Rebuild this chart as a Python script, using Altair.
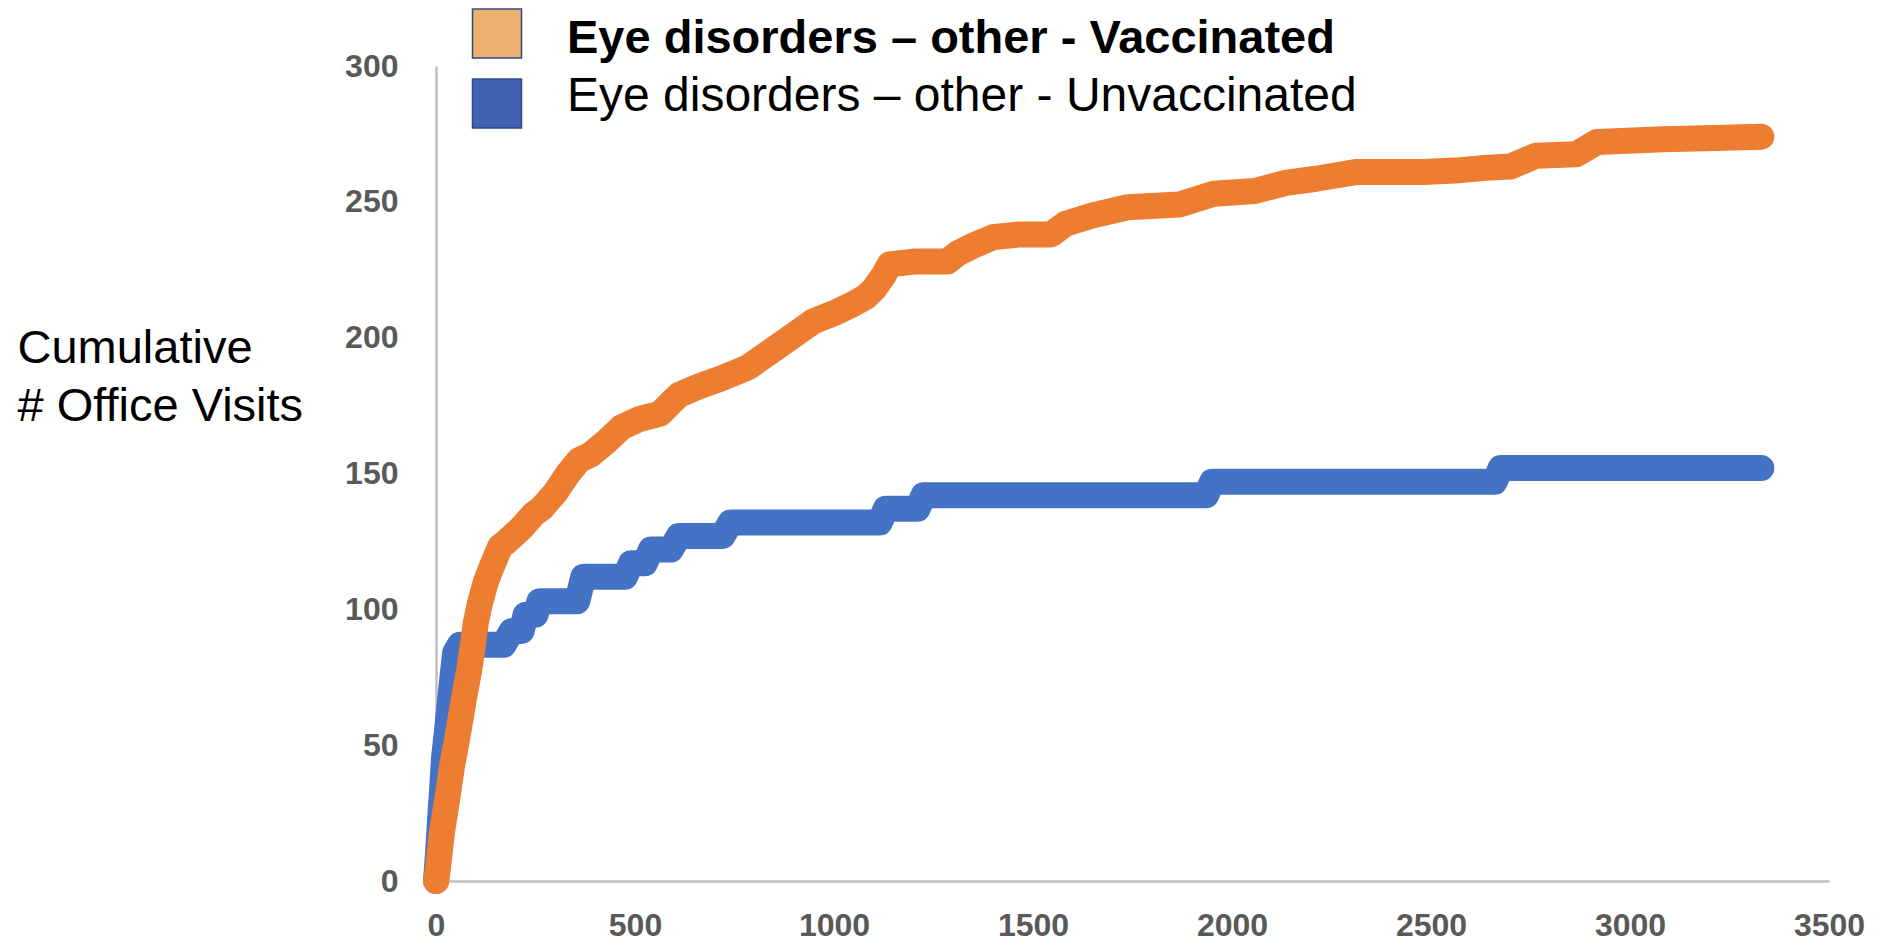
import altair as alt
import pandas as pd

# ---- data ----
days_vacc = [0, 5, 15, 28, 40, 55, 70, 85, 100, 110, 125, 138, 161, 178, 215, 245, 264, 300,
             332, 360, 389, 430, 466, 510, 563, 590, 611, 660, 716, 783, 851, 900, 948, 1000,
             1043, 1080, 1101, 1125, 1140, 1200, 1285, 1310, 1352, 1400, 1467, 1545, 1583,
             1650, 1738, 1867, 1955, 2057, 2135, 2211, 2314, 2479, 2560, 2635, 2700, 2764,
             2865, 2917, 3083, 3211, 3330]
visits_vacc = [0, 5, 18, 30, 42, 54, 67, 79, 95, 102, 110, 115, 123, 125, 130, 135, 137, 143,
               150, 155, 157, 162, 167, 170, 172, 176, 179, 182, 185, 189, 196, 201, 206, 209,
               212, 215, 218, 223, 227, 228, 228, 231, 234, 237, 238, 238, 242,
               245, 248, 249, 253, 254, 257, 258.5, 261, 261, 261.5, 262.5, 263, 267,
               267.5, 272, 273, 273.5, 274]

days_unvacc = [0, 5, 10, 15, 20, 28, 35, 42, 48, 60, 170, 190, 215, 225, 250, 260, 355, 370,
               475, 490, 525, 540, 590, 610, 720, 740, 1115, 1130, 1210, 1225, 1935, 1950,
               2660, 2675, 3330]
visits_unvacc = [0, 10, 22, 33, 45, 56, 66, 76, 84, 87, 87, 92, 92, 98, 98, 103, 103, 112,
                 112, 117, 117, 122, 122, 127, 127, 132, 132, 137, 137, 142, 142, 147,
                 147, 152, 152]

series_names = ["Eye disorders \u2013 other - Vaccinated", "Eye disorders \u2013 other - Unvaccinated"]
line_colors = ["#ED7D31", "#4472C4"]
swatch_fills = ["#EEB06F", "#4262B2"]
swatch_strokes = ["#2F4A8A", "#2F4A8A"]
label_weights = ["bold", "normal"]
label_sizes = [47, 48]

x_ticks = [0, 500, 1000, 1500, 2000, 2500, 3000, 3500]
y_ticks = [0, 50, 100, 150, 200, 250, 300]
y_title = ["Cumulative", "# Office Visits"]

df = pd.concat([
    pd.DataFrame({"days": days_vacc, "visits": visits_vacc, "series": series_names[0]}),
    pd.DataFrame({"days": days_unvacc, "visits": visits_unvacc, "series": series_names[1]}),
])

AXIS_GREY = "#BFBFBF"
LABEL_GREY = "#595959"
TICK_FONT = "Liberation Sans"
TEXT_FONT = "Liberation Sans"

x_enc = alt.X("days:Q",
              scale=alt.Scale(domain=[0, 3500], nice=False, zero=True),
              axis=alt.Axis(values=x_ticks, format="d", title=None, grid=False, ticks=False,
                            labelPadding=29, labelFont=TICK_FONT, labelFontSize=32,
                            labelFontWeight="bold", labelColor=LABEL_GREY,
                            domainColor=AXIS_GREY, domainWidth=2.5, labelFlush=False))
y_enc = alt.Y("visits:Q",
              scale=alt.Scale(domain=[0, 300], nice=False),
              axis=alt.Axis(values=y_ticks, format="d", grid=False, ticks=False,
                            labelPadding=38, labelFont=TICK_FONT, labelFontSize=32,
                            labelFontWeight="bold", labelColor=LABEL_GREY,
                            domainColor=AXIS_GREY, domainWidth=2.5,
                            title=y_title, titleAngle=0, titleAlign="left",
                            titleBaseline="alphabetic", titleX=-419, titleY=296,
                            titleFont=TEXT_FONT, titleFontSize=47, titleFontWeight="normal",
                            titleColor="black", titleLineHeight=58))

def line_layer(i):
    return alt.Chart(df).transform_filter(
        alt.datum.series == series_names[i]
    ).mark_line(strokeWidth=26, strokeCap="round", strokeJoin="round",
                color=line_colors[i]).encode(x=x_enc, y=y_enc, order="days:Q")

# legend (drawn by hand to get one bold label)
legend_y = [-32.5, 37.5]
label_y = [-13, 45]
layers = [line_layer(1), line_layer(0)]
for i in range(2):
    ldf = pd.DataFrame({"label": [series_names[i]]})
    layers.append(alt.Chart(ldf).mark_square(size=49 * 49, fill=swatch_fills[i], fillOpacity=1,
                                             stroke=swatch_strokes[i], strokeWidth=1.5)
                  .encode(x=alt.value(61), y=alt.value(legend_y[i])))
    layers.append(alt.Chart(ldf).mark_text(align="left", baseline="alphabetic", font=TEXT_FONT,
                                           fontSize=label_sizes[i], fontWeight=label_weights[i],
                                           color="black")
                  .encode(x=alt.value(131), y=alt.value(label_y[i]), text="label:N"))

chart = alt.layer(*layers).properties(
    width=1393, height=815,
    autosize=alt.AutoSizeParams(type="none"),
    padding={"left": 428, "top": 58, "right": 43, "bottom": 62},
    background="white",
).configure_view(stroke=None)

chart.save("out.html", embed_options={"renderer": "svg", "actions": False})
